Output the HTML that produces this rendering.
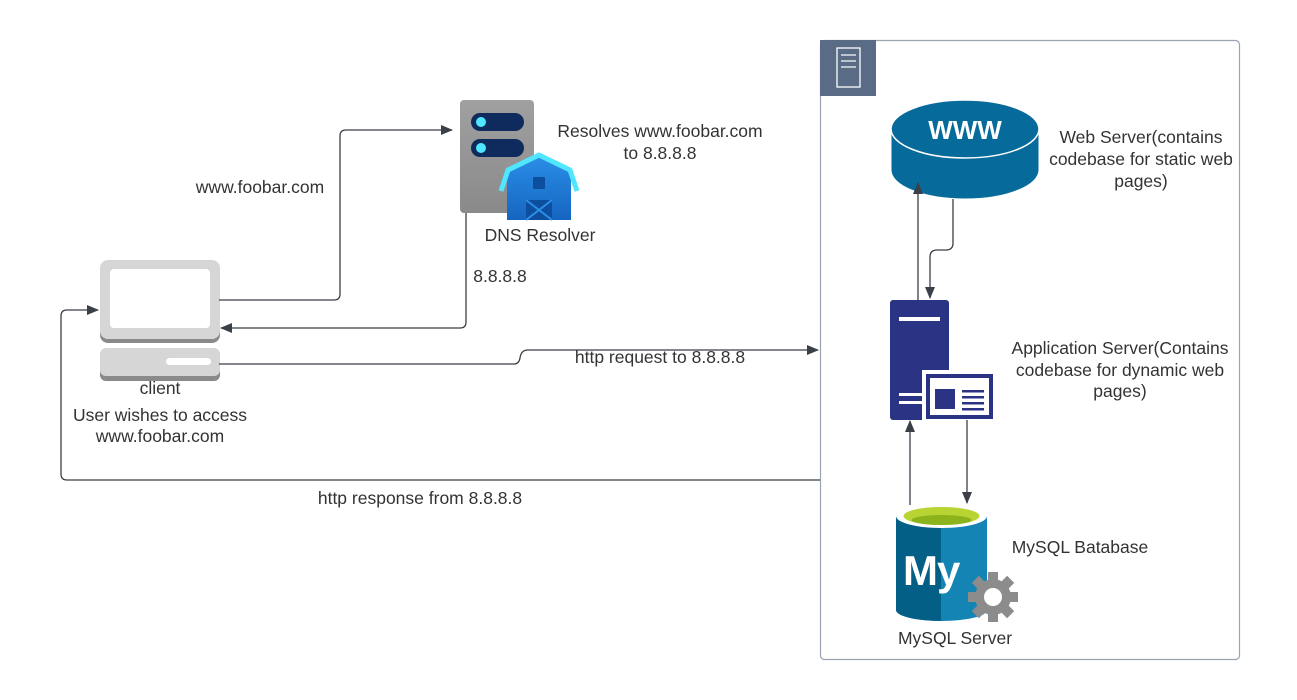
<!DOCTYPE html>
<html><head><meta charset="utf-8"><style>
html,body{margin:0;padding:0;background:#fff}
svg{display:block}
text{font-family:"Liberation Sans",sans-serif;font-size:17.5px;fill:#333}
</style></head><body>
<svg width="1297" height="700" viewBox="0 0 1297 700" xmlns="http://www.w3.org/2000/svg">
<defs>
<marker id="ah" markerWidth="12" markerHeight="10" refX="11" refY="5" orient="auto" markerUnits="userSpaceOnUse">
<path d="M0,0 L12,5 L0,10 Z" fill="#3a3f48"/></marker>
<linearGradient id="dns" x1="0" y1="0" x2="0" y2="1"><stop offset="0" stop-color="#a0a0a0"/><stop offset="1" stop-color="#8a8a8a"/></linearGradient>
<linearGradient id="barn" x1="0" y1="0" x2="0" y2="1"><stop offset="0" stop-color="#2b8fe8"/><stop offset="1" stop-color="#1565c0"/></linearGradient>
</defs>

<!-- group box -->
<rect x="820.5" y="40.5" width="419" height="619" rx="4" fill="#fff" stroke="#9aa3b2" stroke-width="1.2"/>
<rect x="820" y="40" width="56" height="56" fill="#5a6b86"/>
<rect x="837" y="48" width="23" height="39" fill="none" stroke="#fff" stroke-width="1.3"/>
<line x1="841" y1="55" x2="856" y2="55" stroke="#fff" stroke-width="1.2"/>
<line x1="841" y1="61" x2="856" y2="61" stroke="#fff" stroke-width="1.2"/>
<line x1="841" y1="67" x2="856" y2="67" stroke="#fff" stroke-width="1.2"/>

<!-- client -->
<rect x="100" y="263" width="120" height="80" rx="8" fill="#8a8a8a"/>
<rect x="100" y="260" width="120" height="79" rx="8" fill="#d6d6d6"/>
<rect x="110" y="269" width="100" height="59" rx="4" fill="#fff"/>
<rect x="100" y="351" width="120" height="30" rx="6" fill="#8a8a8a"/>
<rect x="100" y="348" width="120" height="28" rx="6" fill="#d6d6d6"/>
<rect x="166" y="358" width="45" height="7" rx="3.5" fill="#fff"/>
<text x="160" y="394" text-anchor="middle">client</text>
<text x="160" y="421" text-anchor="middle">User wishes to access</text>
<text x="160" y="442" text-anchor="middle">www.foobar.com</text>

<text x="260" y="193" text-anchor="middle">www.foobar.com</text>
<text x="500" y="282" text-anchor="middle">8.8.8.8</text>
<text x="660" y="363" text-anchor="middle">http request to 8.8.8.8</text>
<text x="420" y="504" text-anchor="middle">http response from 8.8.8.8</text>

<!-- DNS -->
<rect x="460" y="100" width="74" height="113" rx="4" fill="url(#dns)"/>
<rect x="471" y="113" width="53" height="18" rx="9" fill="#0f2a5c"/>
<circle cx="481" cy="122" r="5" fill="#50e6ff"/>
<rect x="471" y="139" width="53" height="18" rx="9" fill="#0f2a5c"/>
<circle cx="481" cy="148" r="5" fill="#50e6ff"/>
<path d="M507,170 L507,220 L571,220 L571,170 L539,155 Z" fill="url(#barn)"/>
<path d="M501,191 L508,170 L539,155 L570,170 L577,191" fill="none" stroke="#50e6ff" stroke-width="5" stroke-linejoin="round"/>
<rect x="533" y="177" width="12" height="12" rx="1" fill="#0d4f9e"/>
<rect x="526" y="200" width="26" height="20" fill="#0d4f9e"/>
<path d="M526,200 L552,220 M552,200 L526,220" stroke="#2b8fe8" stroke-width="2"/>
<text x="540" y="241" text-anchor="middle">DNS Resolver</text>
<text x="660" y="137" text-anchor="middle">Resolves www.foobar.com</text>
<text x="660" y="159" text-anchor="middle">to 8.8.8.8</text>

<!-- WWW -->
<path d="M891,129 V170 A74,29 0 0 0 1039,170 V129 Z" fill="#066a9a" stroke="#fff" stroke-width="1"/>
<ellipse cx="965" cy="129" rx="74" ry="29" fill="#066a9a" stroke="#fff" stroke-width="1.5"/>
<text x="965" y="139" text-anchor="middle" style="font-size:26px;font-weight:bold;fill:#fff">WWW</text>
<text x="1141" y="143" text-anchor="middle">Web Server(contains</text>
<text x="1141" y="165" text-anchor="middle">codebase for static web</text>
<text x="1141" y="187" text-anchor="middle">pages)</text>

<!-- App server -->
<rect x="890" y="300" width="59" height="120" rx="3" fill="#2b3384"/>
<rect x="899" y="317" width="41" height="4" fill="#fff"/>
<rect x="899" y="393" width="28" height="3" fill="#fff"/>
<rect x="899" y="401" width="28" height="3" fill="#fff"/>
<rect x="922" y="370" width="74" height="52" fill="#fff"/>
<rect x="926" y="374" width="67" height="45" fill="#2b3384"/>
<rect x="930" y="378" width="59" height="37" fill="#fff"/>
<rect x="935" y="389" width="20" height="20" fill="#2b3384"/>
<rect x="962" y="390" width="22" height="2.5" fill="#2b3384"/>
<rect x="962" y="396" width="22" height="2.5" fill="#2b3384"/>
<rect x="962" y="402" width="22" height="2.5" fill="#2b3384"/>
<rect x="962" y="408" width="22" height="2.5" fill="#2b3384"/>
<text x="1120" y="354" text-anchor="middle">Application Server(Contains</text>
<text x="1120" y="376" text-anchor="middle">codebase for dynamic web</text>
<text x="1120" y="397" text-anchor="middle">pages)</text>

<!-- MySQL -->
<path d="M896,516 V610 A45.5,11 0 0 0 987,610 V516 Z" fill="#1484b4"/>
<path d="M896,516 V610 A45.5,11 0 0 0 941,621 V516 Z" fill="#045f86"/>
<ellipse cx="941.5" cy="516" rx="45.5" ry="12" fill="#fff"/>
<ellipse cx="941.5" cy="516" rx="38" ry="9" fill="#b8d432"/>
<ellipse cx="941.5" cy="520" rx="30" ry="5" fill="#8cb31c"/>
<text x="903" y="585" style="font-size:42px;font-weight:bold;fill:#fff;letter-spacing:-1px">My</text>
<g transform="translate(993,597)">
<circle r="18" fill="#8c8c8c"/>
<g fill="#8c8c8c">
<rect x="-5" y="-25" width="10" height="50"/>
<rect x="-5" y="-25" width="10" height="50" transform="rotate(45)"/>
<rect x="-5" y="-25" width="10" height="50" transform="rotate(90)"/>
<rect x="-5" y="-25" width="10" height="50" transform="rotate(135)"/>
</g>
<circle r="9" fill="#fff"/>
</g>
<text x="955" y="644" text-anchor="middle">MySQL Server</text>
<text x="1080" y="553" text-anchor="middle">MySQL Batabase</text>

<!-- connectors (on top) -->
<g fill="none" stroke="#3a3f48" stroke-width="1.3">
<path d="M219,300 H334 Q340,300 340,294 V136 Q340,130 346,130 H452" marker-end="url(#ah)"/>
<path d="M466,213 V322 Q466,328 460,328 H221" marker-end="url(#ah)"/>
<path d="M219,364 H514 Q519,364 520,358 Q521,350 528,350 H818" marker-end="url(#ah)"/>
<path d="M820,480 H67 Q61,480 61,474 V316 Q61,310 67,310 H98" marker-end="url(#ah)"/>
<path d="M918,300 V183" marker-end="url(#ah)"/>
<path d="M953,199 V243 Q953,250 946,250 H937 Q930,250 930,257 V298" marker-end="url(#ah)"/>
<path d="M910,505 V421" marker-end="url(#ah)"/>
<path d="M967,420 V503" marker-end="url(#ah)"/>
</g>
</svg>
</body></html>
